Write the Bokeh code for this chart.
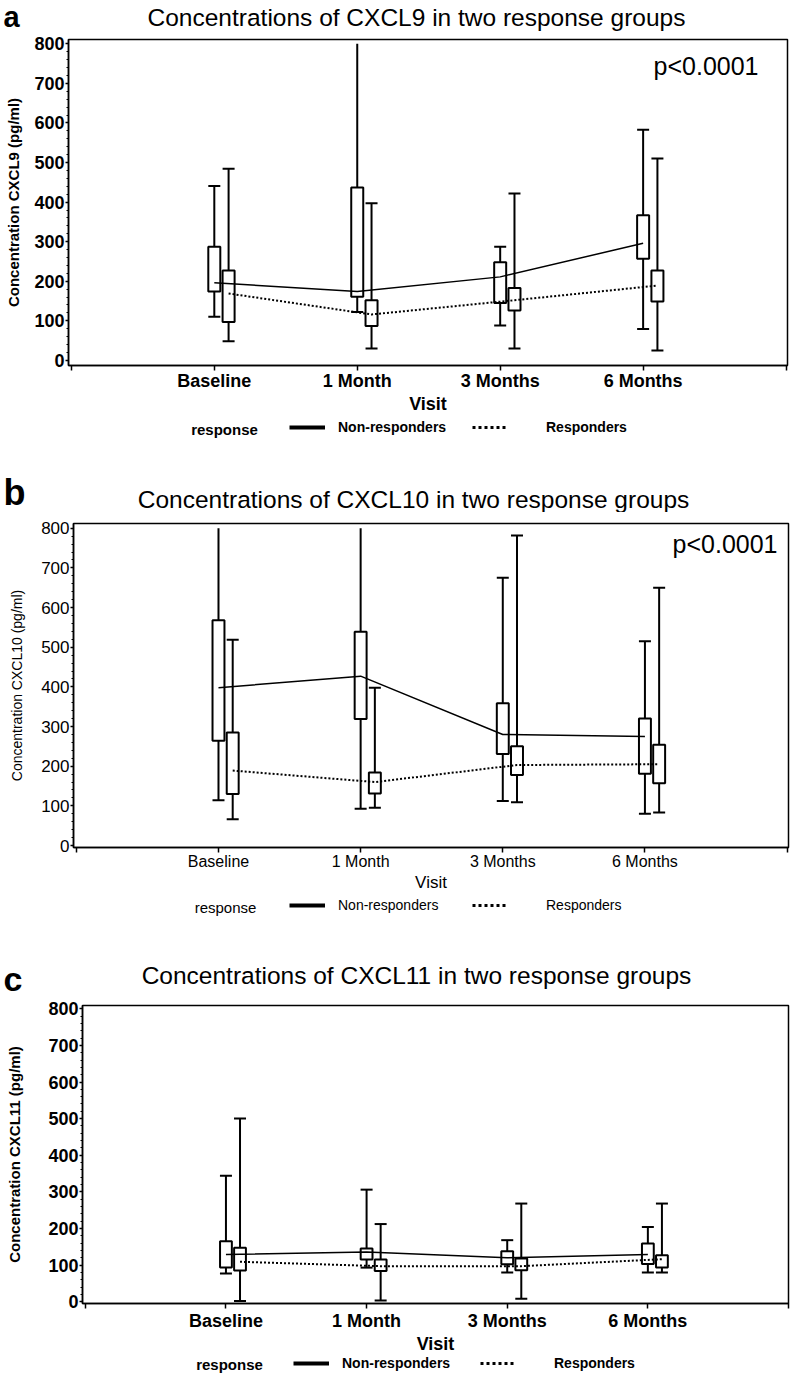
import numpy as np
from bokeh.plotting import figure
from bokeh.models import (ColumnDataSource, FixedTicker, SingleIntervalTicker, Label,
                          Legend, LegendItem, Range1d)
from bokeh.embed import file_html
from bokeh.resources import INLINE

FONT = "Liberation Sans"
W = 790

visits = ["Baseline", "1 Month", "3 Months", "6 Months"]

# ---- Panel a: CXCL9 (pg/ml) ----
a_nr_lo = [110, 122, 88, 79]
a_nr_q1 = [174, 161, 145, 257]
a_nr_q3 = [287, 437, 248, 367]
a_nr_hi = [441, 800, 287, 583]
a_nr_mean = [196, 174, 211, 296]
a_nr_cap = [True, False, True, True]
a_r_lo = [48, 30, 30, 25]
a_r_q1 = [97, 87, 126, 149]
a_r_q3 = [227, 152, 183, 227]
a_r_hi = [484, 397, 422, 510]
a_r_mean = [169, 116, 152, 189]

# ---- Panel b: CXCL10 (pg/ml) ----
b_nr_lo = [114, 93, 112, 80]
b_nr_q1 = [264, 319, 231, 181]
b_nr_q3 = [568, 539, 359, 320]
b_nr_hi = [800, 800, 675, 515]
b_nr_mean = [398, 427, 280, 275]
b_nr_cap = [False, False, True, True]
b_r_lo = [66, 95, 109, 83]
b_r_q1 = [130, 131, 178, 157]
b_r_q3 = [285, 184, 250, 254]
b_r_hi = [519, 398, 782, 650]
b_r_mean = [189, 160, 203, 205]

# ---- Panel c: CXCL11 (pg/ml) ----
c_nr_lo = [77, 93, 80, 80]
c_nr_q1 = [93, 115, 102, 103]
c_nr_q3 = [165, 145, 138, 159]
c_nr_hi = [344, 306, 168, 204]
c_nr_mean = [129, 136, 120, 129]
c_nr_cap = [True, True, True, True]
c_r_lo = [2, 3, 8, 80]
c_r_q1 = [85, 84, 86, 93]
c_r_q3 = [147, 115, 118, 127]
c_r_hi = [500, 212, 268, 268]
c_r_mean = [109, 97, 97, 116]

R_OFFSET = 0.1
BOX_W = 0.084


def strip(top, bottom):
    h = bottom - top
    f = figure(width=W, height=h, x_range=Range1d(0, W), y_range=Range1d(0, h),
               x_axis_type=None, y_axis_type=None, output_backend="svg",
               toolbar_location=None, min_border=0)
    f.outline_line_color = None
    f.xgrid.visible = False
    f.ygrid.visible = False
    f.background_fill_color = "white"
    f.border_fill_color = "white"
    return f, (lambda px, py: (px, bottom - py))


def header(top, bottom, letter, title, lpos, lsize, tpos):
    f, sc = strip(top, bottom)
    lx, ly = sc(*lpos)
    f.add_layout(Label(x=lx, y=ly, text=letter, text_font=FONT, text_font_style="bold",
                       text_font_size=lsize, text_align="left",
                       text_baseline="middle", text_color="black"))
    tx, ty = sc(*tpos)
    f.add_layout(Label(x=tx, y=ty, text=title, text_font=FONT, text_font_size="24.5px",
                       text_align="center", text_baseline="middle", text_color="black"))
    return f


def footer(top, bottom, bold, resp_pos, legy, g1, g2):
    f, sc = strip(top, bottom)
    style = "bold" if bold else "normal"
    rx, ry = sc(*resp_pos)
    f.add_layout(Label(x=rx, y=ry, text="response", text_font=FONT, text_font_style=style,
                       text_font_size="15px", text_align="center", text_baseline="middle",
                       text_color="black"))
    # legend keys only (no visible data in this strip)
    r1 = f.line(x=[np.nan], y=[np.nan], line_color="black", line_width=4)
    r2 = f.line(x=[np.nan], y=[np.nan], line_color="black", line_width=3, line_dash="3 3")
    for rend, lab, gx, standoff in ((r1, "Non-responders", g1, 13),
                                    (r2, "Responders", g2, 38)):
        sx, sy = sc(gx, legy + 7)
        leg = Legend(items=[LegendItem(label=lab, renderers=[rend])], location=(sx, sy),
                     orientation="horizontal", glyph_width=36, glyph_height=14,
                     label_height=14, label_standoff=standoff, padding=0, margin=0,
                     spacing=0, border_line_alpha=0, background_fill_alpha=0,
                     label_text_font=FONT, label_text_font_style=style,
                     label_text_font_size="14px", label_text_color="black")
        f.add_layout(leg)
    return f


def build(ylabel, nr, r, caps, geo, bold, pval):
    fl, ft, fr, fb = geo["frame"]
    top, bottom = geo["fig"]
    p = figure(width=W, height=bottom - top,
               x_range=Range1d(*geo["xr"]), y_range=Range1d(*geo["yr"]),
               output_backend="svg", toolbar_location=None,
               min_border_left=fl, min_border_right=W - fr,
               min_border_top=ft - top, min_border_bottom=bottom - fb)
    p.xgrid.visible = False
    p.ygrid.visible = False
    p.outline_line_color = "black"
    p.outline_line_width = 1.5
    p.background_fill_color = "white"
    p.border_fill_color = "white"
    style = "bold" if bold else "normal"

    for grp, xoff in ((nr, 0.0), (r, R_OFFSET)):
        lo, q1, q3, hi, mean = grp
        xs = [i + 1 + xoff for i in range(len(visits))]
        src = ColumnDataSource(dict(x=xs, lo=lo, q1=q1, q3=q3, hi=hi))
        p.segment(x0="x", y0="lo", x1="x", y1="q1", source=src, line_color="black", line_width=2)
        p.segment(x0="x", y0="q3", x1="x", y1="hi", source=src, line_color="black", line_width=2)
        if xoff == 0.0:
            cx_hi = [x for x, c in zip(xs, caps) if c]
            cy_hi = [h for h, c in zip(hi, caps) if c]
        else:
            cx_hi, cy_hi = xs, hi
        p.scatter(cx_hi, cy_hi, marker="dash", size=12, line_color="black", line_width=2)
        p.scatter(xs, lo, marker="dash", size=12, line_color="black", line_width=2)
        p.vbar(x="x", width=BOX_W, bottom="q1", top="q3", source=src,
               fill_color="white", line_color="black", line_width=2)
    for grp, xoff, dash, lw in ((nr, 0.0, "solid", 1.5), (r, R_OFFSET, "2 2", 2)):
        xs = [i + 1 + xoff for i in range(len(visits))]
        p.line(xs, grp[4], line_color="black", line_width=lw, line_dash=dash)

    p.xaxis.ticker = FixedTicker(ticks=[0, 1, 2, 3, 4, 5], minor_ticks=[])
    ov = {0: "", 5: ""}
    ov.update({i + 1: v for i, v in enumerate(visits)})
    p.xaxis.major_label_overrides = ov
    p.xaxis.axis_label = "Visit"
    p.yaxis.axis_label = ylabel
    p.yaxis.ticker = SingleIntervalTicker(interval=100, num_minor_ticks=5)
    for ax in (p.xaxis[0], p.yaxis[0]):
        ax.axis_line_color = "black"
        ax.axis_line_width = 1.5
        ax.major_tick_line_color = "black"
        ax.major_tick_line_width = 1.5
        ax.major_tick_in = 0
        ax.minor_tick_in = 0
        ax.major_label_text_font = FONT
        ax.major_label_text_color = "black"
        ax.axis_label_text_font = FONT
        ax.axis_label_text_color = "black"
        ax.major_label_text_font_style = style
        ax.axis_label_text_font_style = style
    p.xaxis.major_tick_out = 5
    p.xaxis.major_label_standoff = geo["xstand"]
    p.xaxis.axis_label_standoff = 0
    p.xaxis.major_label_text_font_size = geo["xfs"]
    p.xaxis.axis_label_text_font_size = geo["visitfs"]
    p.yaxis.major_tick_out = 3
    p.yaxis.minor_tick_out = 2
    p.yaxis.minor_tick_line_color = "black"
    p.yaxis.major_label_standoff = 1
    p.yaxis.axis_label_standoff = geo["ylab_standoff"]
    p.yaxis.major_label_text_font_size = geo["yfs"]
    p.yaxis.axis_label_text_font_size = geo["ylabfs"]

    if pval:
        vx, vy = geo["pval"]
        p.add_layout(Label(x=vx - fl, y=fb - vy, x_units="screen", y_units="screen", text=pval,
                           text_font=FONT, text_font_size="25px", text_align="right",
                           text_baseline="middle", text_color="black"))
    return p


geo_a = dict(frame=(68, 39, 787, 366), fig=(33, 416), xr=(-0.02, 5.01), yr=(-13, 811),
             pval=(758, 66), xfs="18px", visitfs="18px", yfs="18px", ylabfs="15px",
             ylab_standoff=9, xstand=0)
geo_b = dict(frame=(73, 523, 788, 847), fig=(512, 897), xr=(-0.02, 5.01), yr=(-5, 812),
             pval=(777, 543), xfs="16px", visitfs="17px", yfs="17px", ylabfs="14px",
             ylab_standoff=13, xstand=0)
geo_c = dict(frame=(82, 1005, 788, 1307), fig=(998, 1356), xr=(-0.02, 5.0), yr=(-5, 809),
             pval=None, xfs="18px", visitfs="18px", yfs="18px", ylabfs="15px",
             ylab_standoff=22, xstand=2)

ha = header(0, 33, "a", "Concentrations of CXCL9 in two response groups",
            (3, 16.6), "29px", (416, 16.5))
pa = build("Concentration CXCL9 (pg/ml)",
           (a_nr_lo, a_nr_q1, a_nr_q3, a_nr_hi, a_nr_mean),
           (a_r_lo, a_r_q1, a_r_q3, a_r_hi, a_r_mean), a_nr_cap, geo_a, True, "p<0.0001")
fa = footer(416, 448, True, (224, 429), 428, 289, 472)

hb = header(448, 512, "b", "Concentrations of CXCL10 in two response groups",
            (3, 491.5), "36px", (413, 498.5))
pb = build("Concentration CXCL10 (pg/ml)",
           (b_nr_lo, b_nr_q1, b_nr_q3, b_nr_hi, b_nr_mean),
           (b_r_lo, b_r_q1, b_r_q3, b_r_hi, b_r_mean), b_nr_cap, geo_b, False, "p<0.0001")
fb_ = footer(897, 928, False, (225, 907), 906, 289, 472)

hc = header(928, 998, "c", "Concentrations of CXCL11 in two response groups",
            (3, 978.5), "34px", (416, 974.5))
pc = build("Concentration CXCL11 (pg/ml)",
           (c_nr_lo, c_nr_q1, c_nr_q3, c_nr_hi, c_nr_mean),
           (c_r_lo, c_r_q1, c_r_q3, c_r_hi, c_r_mean), c_nr_cap, geo_c, True, None)
fc = footer(1356, 1380, True, (229, 1364), 1364, 293, 480)

roots = [ha, pa, fa, hb, pb, fb_, hc, pc, fc]
open("out.html", "w").write(file_html(roots, INLINE))
